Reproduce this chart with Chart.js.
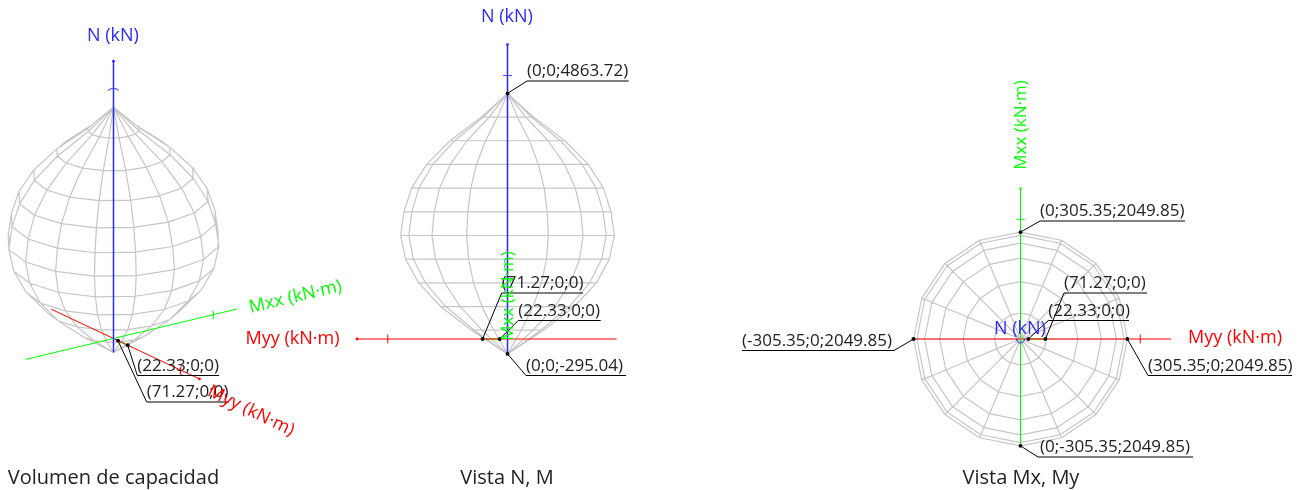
<!DOCTYPE html>
<html>
<head>
<meta charset="utf-8">
<title>Volumen de capacidad</title>
<script src="https://cdn.jsdelivr.net/npm/chart.js@4"></script>
<style>
  html, body { margin: 0; padding: 0; background: #fff; }
  canvas { display: block; }
</style>
</head>
<body>
<canvas id="capacidad" width="1302" height="490"></canvas>
<script>
// Superficie de capacidad: anillos (N, radio) y meridianos
const ringN = [4863.72, 4394.7, 3925.8, 3456.8, 2987.8, 2518.8, 2049.85, 1580.9, 1111.9, 642.9, 173.9, -295.04];
const ringR = [0, 74, 164, 231, 274, 296, 305.35, 291, 254, 191, 103, 0];
const meridianDeg = [0, 22.5, 45, 67.5, 90, 112.5, 135, 157.5, 180, 202.5, 225, 247.5, 270, 292.5, 315, 337.5];

// Extremos de ejes y marca de escala (kN·m, kN)
const myyAxis = [-312, 430];
const mxxAxis = [-305.35, 430];
const nAxis = [-295.04, 5830];
const myyTick = 342;
const mxxTick = 342;
const nTick = 5217;

// Puntos notables [Myy, Mxx, N]
const pureBending = [[22.33, 0, 0], [71.27, 0, 0]];

// Paneles: origen en pixeles y escala (pixeles por unidad)
const panels = [
  { id: '1', cx: 113.5, cy: 338.5, kx: 0.35, ky: 0.0506, u: [0.571, 0.823, 0], v: [-1.858, 1.358, 0.94] },
  { id: '2', cx: 507.5, cy: 339, kx: 0.35, ky: 0.0505, u: [-1, 0, 0], v: [0, 0, 1] },
  { id: '3', cx: 1020.5, cy: 339, kx: 0.35, ky: 0.35, u: [1, 0, 0], v: [0, 1, 0] }
];

function project(p, q) {
  return {
    x: p.u[0] * q[0] + p.u[1] * q[1] + p.u[2] * q[2],
    y: p.v[0] * q[0] + p.v[1] * q[1] + p.v[2] * q[2]
  };
}

function surf(i, j) {
  const a = meridianDeg[j % meridianDeg.length] * Math.PI / 180;
  return [ringR[i] * Math.cos(a), ringR[i] * Math.sin(a), ringN[i]];
}

// aristas de las caras que miran al observador
function meshPoints(p) {
  const seen = new Set(), out = [];
  const edge = (a, b) => {
    const key = [a, b].sort().join('|');
    if (seen.has(key)) return;
    seen.add(key);
    const A = a.split(',').map(Number), B = b.split(',').map(Number);
    out.push(project(p, surf(A[0], A[1])), project(p, surf(B[0], B[1])), { x: NaN, y: NaN });
  };
  for (let i = 0; i < ringN.length - 1; i++) {
    for (let j = 0; j < meridianDeg.length; j++) {
      const jn = (j + 1) % meridianDeg.length;
      const ids = [i + ',' + j, (i + 1) + ',' + j, (i + 1) + ',' + jn, i + ',' + jn];
      const pts = [surf(i, j), surf(i + 1, j), surf(i + 1, j + 1), surf(i, j + 1)].map(q => project(p, q));
      let area = 0;
      for (let k = 0; k < 4; k++) {
        const c = pts[k], d = pts[(k + 1) % 4];
        area += c.x * d.y - d.x * c.y;
      }
      if (area <= 1e-6) continue;
      for (let k = 0; k < 4; k++) edge(ids[k], ids[(k + 1) % 4]);
    }
  }
  return out;
}

// marca de eje: pequeno arco alrededor del punto, semiejes en pixeles
function tickArc(p, q, rx, ry, from, to) {
  const c = project(p, q), out = [];
  for (let a = from; a <= to; a += 20) {
    out.push({
      x: c.x + rx * Math.cos(a * Math.PI / 180) / p.kx,
      y: c.y + ry * Math.sin(a * Math.PI / 180) / p.ky
    });
  }
  return out;
}

const blue = '#2a2aff', red = '#ff0000', green = '#00ff00';
const datasets = [];

function line(p, data, color, width, order, extra) {
  datasets.push(Object.assign({
    data, xAxisID: 'x' + p.id, yAxisID: 'y' + p.id, showLine: true, spanGaps: false,
    borderColor: color, borderWidth: width, pointRadius: 0, order
  }, extra || {}));
}

function dots(p, qs, color, r, order) {
  datasets.push({
    data: qs.map(q => project(p, q)), xAxisID: 'x' + p.id, yAxisID: 'y' + p.id, showLine: false,
    pointRadius: r, pointBackgroundColor: color, pointBorderWidth: 0, order
  });
}

panels.forEach(p => {
  line(p, meshPoints(p), '#c6c6c6', 1.2, 10);
  line(p, myyAxis.map(m => project(p, [m, 0, 0])), red, 1, 6);
  line(p, mxxAxis.map(m => project(p, [0, m, 0])), green, 1, 5);
  line(p, nAxis.map(n => project(p, [0, 0, n])), blue, 1.5, 4);
  line(p, pureBending.map(q => project(p, q)), '#b06a10', 1.4, 3);
});

// marcas de escala en cada vista
const [p1, p2, p3] = panels;
line(p1, tickArc(p1, [0, 0, nTick], 5, 1.7, 0, 180), blue, 1, 3);
line(p1, tickArc(p1, [0, mxxTick, 0], 1.7, 4, -90, 90), green, 1, 3);
line(p1, tickArc(p1, [myyTick, 0, 0], 1.7, 4, 90, 270), red, 1, 3);
line(p2, tickArc(p2, [0, 0, nTick], 4.5, 0, 0, 180), blue, 1, 3);
line(p2, tickArc(p2, [myyTick, 0, 0], 0, 4.5, -90, 90), red, 1, 3);
line(p3, tickArc(p3, [0, mxxTick, 0], 4.5, 0, 0, 180), green, 1, 3);
line(p3, tickArc(p3, [myyTick, 0, 0], 0, 4.5, -90, 90), red, 1, 3);
line(p3, tickArc(p3, [0, 0, 0], 4, 4, 180, 360), blue, 1, 3);

// extremos de ejes
dots(p1, [[0, 0, nAxis[1]]], blue, 1.4, 2);
dots(p1, [[myyAxis[1], 0, 0]], red, 1.4, 2);
dots(p2, [[0, 0, nAxis[1]]], blue, 1.4, 2);
dots(p2, [[myyAxis[1], 0, 0]], red, 1.4, 2);
dots(p3, [[0, mxxAxis[1], 0]], green, 1.2, 2);

// Etiquetas con linea de referencia: punto, inicio y fin del subrayado, texto
const callouts = [
  { p: 0, q: [71.27, 0, 0], a: [137.3, 375.5], b: [219, 375.5], text: '(22.33;0;0)' },
  { p: 0, q: [22.33, 0, 0], a: [146.7, 402], b: [228.7, 402], text: '(71.27;0;0)' },
  { p: 1, q: [0, 0, 4863.72], a: [527, 81], b: [628.7, 81], text: '(0;0;4863.72)' },
  { p: 1, q: [71.27, 0, 0], a: [501.7, 293], b: [583, 293], text: '(71.27;0;0)' },
  { p: 1, q: [22.33, 0, 0], a: [518.3, 320.5], b: [600.7, 320.5], text: '(22.33;0;0)' },
  { p: 1, q: [0, 0, -295.04], a: [526, 375.5], b: [626, 375.5], text: '(0;0;-295.04)' },
  { p: 2, q: [0, 305.35, 2049.85], a: [1040, 221], b: [1185, 221], text: '(0;305.35;2049.85)' },
  { p: 2, q: [71.27, 0, 0], a: [1064, 293], b: [1147, 293], text: '(71.27;0;0)' },
  { p: 2, q: [22.33, 0, 0], a: [1048.3, 320.5], b: [1129, 320.5], text: '(22.33;0;0)' },
  { p: 2, q: [-305.35, 0, 2049.85], a: [894, 350.5], b: [742, 350.5], text: '(-305.35;0;2049.85)' },
  { p: 2, q: [305.35, 0, 2049.85], a: [1148, 375.5], b: [1292, 375.5], text: '(305.35;0;2049.85)' },
  { p: 2, q: [0, -305.35, 2049.85], a: [1038, 457], b: [1193, 457], tx: 1040, text: '(0;-305.35;2049.85)' }
];

callouts.forEach(c => {
  dots(panels[c.p], [c.q], '#000000', 1.9, 1);
});

// Rotulos de ejes y titulos
const FONT_LABEL = '17px "Open Sans"';
const FONT_AXIS = '18px "Open Sans"';
const FONT_VERT = '17px "Open Sans"';
const FONT_TITLE = '20px "Open Sans"';

const labels = [
  { text: 'N (kN)', x: 113, y: 35.5, color: blue, font: FONT_AXIS },
  { text: 'Mxx (kN·m)', x: 295.5, y: 297, color: green, rot: -13.4, font: FONT_AXIS },
  { text: 'Myy (kN·m)', x: 251, y: 411, color: red, rot: 25.9, font: FONT_AXIS },
  { text: 'N (kN)', x: 507, y: 16.5, color: blue, font: FONT_AXIS },
  { text: 'Myy (kN·m)', x: 292.5, y: 339, color: red, font: FONT_AXIS },
  { text: 'Mxx (kN·m)', x: 508.5, y: 296, color: green, rot: -90, font: FONT_VERT },
  { text: 'Mxx (kN·m)', x: 1021.5, y: 125, color: green, rot: -90, font: FONT_VERT },
  { text: 'N (kN)', x: 1020, y: 329, color: blue, font: FONT_AXIS },
  { text: 'Myy (kN·m)', x: 1235, y: 338, color: red, font: FONT_AXIS },
  { text: 'Volumen de capacidad', x: 113.5, y: 478, color: '#222222', font: FONT_TITLE },
  { text: 'Vista N, M', x: 507, y: 478, color: '#222222', font: FONT_TITLE },
  { text: 'Vista Mx, My', x: 1021, y: 478, color: '#222222', font: FONT_TITLE }
];

const annotate = {
  id: 'annotate',
  afterDatasetsDraw(chart) {
    const ctx = chart.ctx;
    ctx.save();
    ctx.strokeStyle = '#000';
    ctx.lineWidth = 1;
    callouts.forEach(c => {
      const p = panels[c.p], pt = project(p, c.q);
      const px = chart.scales['x' + p.id].getPixelForValue(pt.x);
      const py = chart.scales['y' + p.id].getPixelForValue(pt.y);
      ctx.beginPath();
      ctx.moveTo(px, py);
      ctx.lineTo(c.a[0], c.a[1]);
      ctx.lineTo(c.b[0], c.b[1]);
      ctx.stroke();
      ctx.fillStyle = '#222222';
      ctx.font = FONT_LABEL;
      ctx.textAlign = 'left';
      ctx.textBaseline = 'alphabetic';
      ctx.fillText(c.text, c.tx || Math.min(c.a[0], c.b[0]), c.a[1] - 5);
    });
    labels.forEach(l => {
      ctx.save();
      ctx.translate(l.x, l.y);
      if (l.rot) ctx.rotate(l.rot * Math.PI / 180);
      ctx.fillStyle = l.color;
      ctx.font = l.font;
      ctx.textAlign = 'center';
      ctx.textBaseline = 'middle';
      ctx.fillText(l.text, 0, 0);
      ctx.restore();
    });
    ctx.restore();
  }
};

// una escala oculta por panel, alineada al origen de cada vista
const scales = {};
panels.forEach(p => {
  scales['x' + p.id] = { type: 'linear', display: false, min: -p.cx / p.kx, max: (1302 - p.cx) / p.kx };
  scales['y' + p.id] = { type: 'linear', display: false, min: -(490 - p.cy) / p.ky, max: p.cy / p.ky };
});

new Chart(document.getElementById('capacidad').getContext('2d'), {
  type: 'scatter',
  data: { datasets },
  options: {
    responsive: false,
    animation: false,
    layout: { padding: 0, autoPadding: false },
    elements: { line: { tension: 0 } },
    plugins: { legend: { display: false }, tooltip: { enabled: false } },
    scales
  },
  plugins: [annotate]
});
</script>
</body>
</html>
